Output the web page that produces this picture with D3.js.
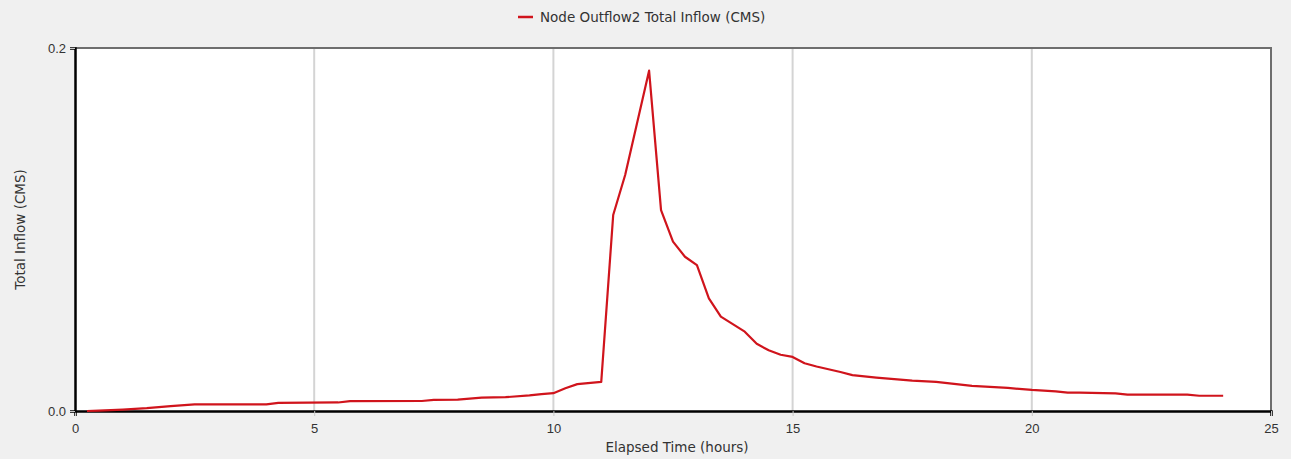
<!DOCTYPE html>
<html>
<head>
<meta charset="utf-8">
<script src="https://cdn.jsdelivr.net/npm/d3@7"></script>
<style>
  body { margin: 0; background: #f0f0f0; }
  svg { display: block; font-family: "DejaVu Sans", Verdana, sans-serif; }
</style>
</head>
<body>
<div id="chart"></div>
<script>
// elapsed time (hours) and total inflow (CMS)
var hours = [0.25, 0.5, 1.0, 1.5, 2.0, 2.5, 4.0, 4.25, 5.5, 5.75, 7.25, 7.5, 8.0, 8.5, 9.0, 9.5, 9.75, 10.0,
             10.25, 10.5, 11.0, 11.25, 11.5, 12.0, 12.25, 12.5, 12.75, 13.0, 13.25, 13.5, 14.0, 14.25, 14.5, 14.75,
             15.0, 15.25, 15.5, 16.0, 16.25, 16.75, 17.5, 18.0, 18.75, 19.5, 20.0, 20.5, 20.75, 21.0, 21.75, 22.0,
             23.25, 23.5, 24.0];
var inflow = [0.0, 0.0002, 0.0008, 0.0016, 0.0027, 0.0036, 0.0037, 0.0045, 0.0047, 0.0054, 0.0055, 0.0061, 0.0063, 0.0074, 0.0076, 0.0086, 0.0093, 0.0098,
              0.0125, 0.0148, 0.0160, 0.108, 0.130, 0.1875, 0.1107, 0.0933, 0.0850, 0.0804, 0.0620, 0.0520, 0.0437, 0.0370, 0.0335, 0.0310,
              0.0298, 0.0263, 0.0245, 0.0215, 0.0198, 0.0184, 0.0167, 0.0160, 0.0138, 0.0127, 0.0116, 0.0108, 0.0101, 0.0101, 0.0097, 0.0090,
              0.0090, 0.0084, 0.0084];

var xTicks = [0, 5, 10, 15, 20, 25];
var yTicks = [0.0, 0.2];
var gridHours = [5, 10, 15, 20];
var seriesName = "Node Outflow2 Total Inflow (CMS)";

var width = 1291, height = 459;
var margin = {top: 48, right: 20, bottom: 48, left: 75};

var svg = d3.select("#chart").append("svg")
    .attr("width", width)
    .attr("height", height);

var x = d3.scaleLinear().domain([0, 25]).range([margin.left, width - margin.right]);
var y = d3.scaleLinear().domain([0, 0.2]).range([height - margin.bottom, margin.top]);

// plot area
svg.append("rect")
    .attr("x", x(0)).attr("y", y(0.2))
    .attr("width", x(25) - x(0)).attr("height", y(0) - y(0.2))
    .attr("fill", "#fff");

// vertical grid lines
svg.selectAll(".grid")
    .data(gridHours)
    .enter().append("line")
    .attr("x1", function(d) { return x(d); })
    .attr("x2", function(d) { return x(d); })
    .attr("y1", y(0.2)).attr("y2", y(0))
    .attr("stroke", "#d4d4d4")
    .attr("stroke-width", 2);

// top and right border (grey)
svg.append("path")
    .attr("d", "M" + x(0) + "," + y(0.2) + "H" + x(25) + "V" + y(0))
    .attr("fill", "none")
    .attr("stroke", "#6e6e6e")
    .attr("stroke-width", 2);

// axes
var xAxis = svg.append("g")
    .attr("transform", "translate(0," + y(0) + ")")
    .call(d3.axisBottom(x).tickValues(xTicks).tickFormat(d3.format("d")).tickSize(5).tickPadding(8));
var yAxis = svg.append("g")
    .attr("transform", "translate(" + x(0) + ",0)")
    .call(d3.axisLeft(y).tickValues(yTicks).tickFormat(d3.format(".1f")).tickSize(5).tickPadding(4));

[xAxis, yAxis].forEach(function(a) {
    a.select(".domain").attr("stroke", "#000").attr("stroke-width", 2.5);
    a.selectAll(".tick line").attr("stroke", "#c8c8c8");
    a.selectAll(".tick text").attr("fill", "#333").style("font-size", "13px");
});

// series line
var line = d3.line()
    .x(function(d, i) { return x(hours[i]); })
    .y(function(d) { return y(d); });

svg.append("path")
    .datum(inflow)
    .attr("d", line)
    .attr("fill", "none")
    .attr("stroke", "#d0141c")
    .attr("stroke-width", 2.2)
    .attr("stroke-linejoin", "round");

// axis titles
svg.append("text")
    .attr("x", 677).attr("y", 452)
    .attr("text-anchor", "middle")
    .attr("fill", "#333")
    .style("font-size", "13.5px")
    .text("Elapsed Time (hours)");

svg.append("text")
    .attr("transform", "translate(25," + ((y(0) + y(0.2)) / 2) + ") rotate(-90)")
    .attr("text-anchor", "middle")
    .attr("fill", "#333")
    .style("font-size", "13.5px")
    .text("Total Inflow (CMS)");

// legend
var legend = svg.append("g").attr("transform", "translate(518,17)");
legend.append("line")
    .attr("x1", 0).attr("x2", 15)
    .attr("stroke", "#d0141c").attr("stroke-width", 2.5);
legend.append("text")
    .attr("x", 22).attr("dy", "0.35em")
    .attr("fill", "#333")
    .style("font-size", "13.5px")
    .text(seriesName);
</script>
</body>
</html>
